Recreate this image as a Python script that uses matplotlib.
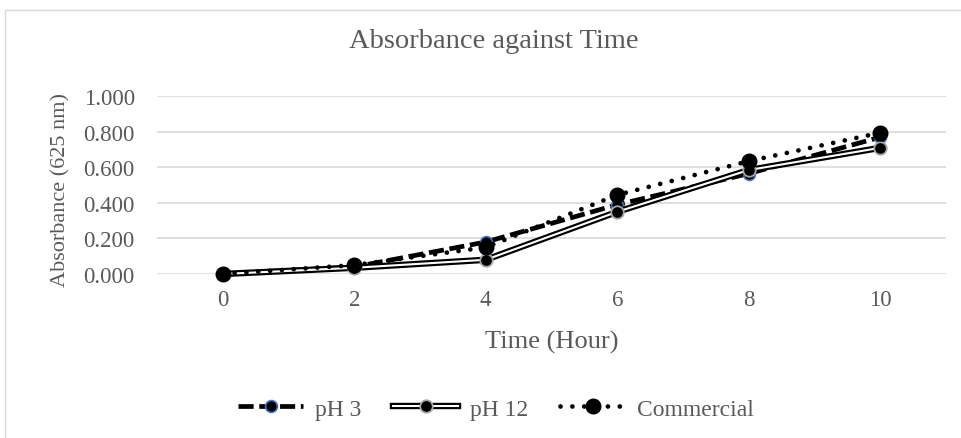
import matplotlib.pyplot as plt
from matplotlib.patches import Rectangle
from matplotlib.legend_handler import HandlerTuple

# Data
hours = [0, 2, 4, 6, 8, 10]
ph3 = [0.000, 0.040, 0.180, 0.390, 0.565, 0.770]
ph12 = [0.000, 0.035, 0.080, 0.350, 0.585, 0.710]
commercial = [0.000, 0.050, 0.150, 0.445, 0.635, 0.795]
yticks = [0.0, 0.2, 0.4, 0.6, 0.8, 1.0]

plt.rcParams['font.family'] = ['Liberation Serif', 'DejaVu Serif']
text_color = '#595959'
grid_color = '#d9d9d9'

W, H = 962, 439
fig = plt.figure(figsize=(W / 100, H / 100), dpi=100)
fig.patches.append(Rectangle((5 / W, -0.1), 1.2, 1 - 11 / H + 0.1,
                             transform=fig.transFigure, fill=False,
                             edgecolor=grid_color, linewidth=1.0))

x0, x1, y_top, y_bot = 157, 946, 97.3, 275
ax = fig.add_axes([x0 / W, 1 - y_bot / H, (x1 - x0) / W, (y_bot - y_top) / H])

# pH 3: thick dashed line
h3, = ax.plot(hours, ph3, color='black', lw=3.4, linestyle=(0, (3.2, 1.2)),
              solid_capstyle='butt', dash_capstyle='butt',
              marker='o', ms=8.5, markerfacecolor='black', markeredgecolor='#4472c4',
              markeredgewidth=1.2, clip_on=False, zorder=3)

# pH 12: double line (black outline with white core), markers drawn on top
h12_outer, = ax.plot(hours, ph12, color='black', lw=4.6, clip_on=False, zorder=3)
h12_inner, = ax.plot(hours, ph12, color='white', lw=1.5, clip_on=False, zorder=3)
h12_mark, = ax.plot(hours, ph12, linestyle='none', marker='o', ms=9,
                    markerfacecolor='black', markeredgecolor='#a6a6a6',
                    markeredgewidth=1.3, clip_on=False, zorder=3)

# Commercial: round dotted line
hc, = ax.plot(hours, commercial, color='black', lw=3.4, linestyle=(0, (0.01, 2.5)),
              dash_capstyle='round', solid_capstyle='round',
              marker='o', ms=10.5, markerfacecolor='black', markeredgecolor='black',
              clip_on=False, zorder=4)

ax.set_xlim(-1, 11)
ax.set_ylim(0, 1.0)
ax.set_xticks(hours)
ax.set_xticklabels([str(h) for h in hours])
ax.set_yticks(yticks)
ax.set_yticklabels([f'{v:.3f}' for v in yticks])
ax.tick_params(axis='both', length=0, labelsize=16.5, colors=text_color)
ax.tick_params(axis='y', pad=16)
ax.tick_params(axis='x', pad=11)
ax.grid(axis='y', color=grid_color, lw=1.2)
ax.set_axisbelow(True)
for s in ax.spines.values():
    s.set_visible(False)

ax.set_ylabel('Absorbance (625 nm)', fontsize=16, color=text_color)
ax.yaxis.set_label_coords((61 - x0) / (x1 - x0), (y_bot - 190) / (y_bot - y_top))
ax.yaxis.label.set_verticalalignment('center')
ax.set_xlabel('Time (Hour)', fontsize=19, color=text_color)
ax.xaxis.set_label_coords(0.5, (y_bot - 342) / (y_bot - y_top))
ax.xaxis.label.set_verticalalignment('center')

fig.text(494 / W, 1 - 48 / H, 'Absorbance against Time', ha='center', va='baseline',
         fontsize=20.5, color=text_color)

leg = fig.legend([h3, (h12_outer, h12_inner, h12_mark), hc],
                 ['pH 3', 'pH 12', 'Commercial'],
                 handler_map={tuple: HandlerTuple(ndivide=1, pad=0)},
                 loc='center', bbox_to_anchor=(496 / W, 1 - 410 / H), ncol=3,
                 frameon=False, fontsize=17, handlelength=2.75, columnspacing=1.35,
                 handletextpad=0.5)
for t in leg.get_texts():
    t.set_color(text_color)

fig.savefig('out.png', dpi=100)
